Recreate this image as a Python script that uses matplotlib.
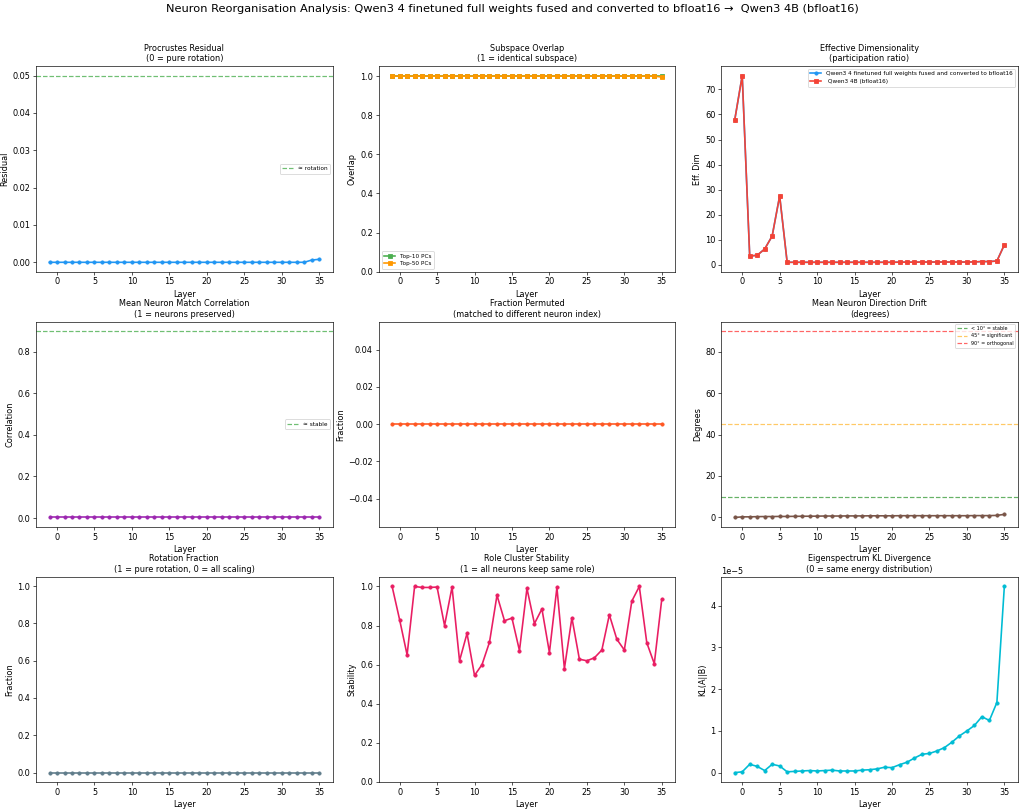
import numpy as np
import matplotlib
matplotlib.use("Agg")
import matplotlib.pyplot as plt

layers = list(range(-1, 36))

procrustes = [0.0] * 35 + [0.0006, 0.0008]

overlap_top10 = [1.0] * 37
overlap_top50 = [1.0] * 36 + [0.995]

effdim_b = [57.8, 75.5, 3.5, 3.8, 6.3, 11.5, 27.5, 1.0,
            1.0, 1.0, 1.0, 1.0, 1.0, 1.0, 1.0, 1.0, 1.0, 1.0, 1.0, 1.0,
            1.0, 1.0, 1.05, 1.05, 1.05, 1.1, 1.1, 1.1, 1.1, 1.1, 1.1, 1.1,
            1.15, 1.3, 1.3, 1.5, 8.0]
effdim_a = list(effdim_b)

correlation = [0.003] * 37
permuted = [0.0] * 37

drift = [0.0, 0.3, 0.3, 0.4, 0.45, 0.45, 0.5, 0.5, 0.55, 0.6, 0.6, 0.65,
         0.7, 0.7, 0.7, 0.75, 0.75, 0.75, 0.8, 0.8, 0.8, 0.8, 0.85, 0.85,
         0.85, 0.85, 0.85, 0.85, 0.85, 0.85, 0.85, 0.85, 0.9, 0.9, 0.9,
         1.0, 1.5]

rotation_frac = [0.0] * 37

stability = [1.0, 0.83, 0.65, 1.0, 0.995, 0.995, 0.997, 0.80, 0.997, 0.62,
             0.76, 0.545, 0.60, 0.715, 0.955, 0.825, 0.838, 0.672, 0.99,
             0.81, 0.885, 0.662, 0.995, 0.58, 0.84, 0.628, 0.62, 0.635,
             0.675, 0.855, 0.73, 0.675, 0.925, 1.0, 0.712, 0.605, 0.935]

kl = np.array([0.0, 0.02, 0.2, 0.15, 0.05, 0.2, 0.16, 0.02, 0.03, 0.04,
               0.05, 0.04, 0.05, 0.06, 0.04, 0.04, 0.04, 0.06, 0.07, 0.09,
               0.13, 0.12, 0.19, 0.25, 0.35, 0.44, 0.46, 0.52, 0.6, 0.73,
               0.88, 1.0, 1.13, 1.34, 1.25, 1.68, 4.47]) * 1e-5

name_a = "Qwen3 4 finetuned full weights fused and converted to bfloat16"
name_b = "Qwen3 4B (bfloat16)"

dpi = 1024 / 17.4
fig, axes = plt.subplots(3, 3, figsize=(17.4, 809 / dpi), dpi=dpi)
fig.suptitle(f"Neuron Reorganisation Analysis: {name_a} \u2192  {name_b}", fontsize=14, y=0.995)

ms = 4
lw = 2
tfs = 10

# procrustes residual
ax = axes[0, 0]
ax.plot(layers, procrustes, 'o-', color='#2196F3', markersize=ms, linewidth=lw)
ax.axhline(0.05, color='#4CAF50', linestyle='--', alpha=0.8, label='\u2248 rotation')
ax.set_title("Procrustes Residual\n(0 = pure rotation)", fontsize=tfs)
ax.set_xlabel("Layer")
ax.set_ylabel("Residual")
ax.legend(fontsize=7, loc='center right')

# subspace overlap
ax = axes[0, 1]
ax.plot(layers, overlap_top10, 's-', color='#4CAF50', markersize=ms, linewidth=lw, label='Top-10 PCs')
ax.plot(layers, overlap_top50, 's-', color='#FF9800', markersize=ms, linewidth=lw, label='Top-50 PCs')
ax.set_title("Subspace Overlap\n(1 = identical subspace)", fontsize=tfs)
ax.set_xlabel("Layer")
ax.set_ylabel("Overlap")
ax.set_ylim(0, 1.05)
ax.legend(fontsize=7, loc='lower left')

# effective dimensionality
ax = axes[0, 2]
ax.plot(layers, effdim_a, 'o-', color='#2196F3', markersize=ms, linewidth=lw, label=name_a)
ax.plot(layers, effdim_b, 's-', color='#F44336', markersize=ms, linewidth=lw, label=' ' + name_b)
ax.set_title("Effective Dimensionality\n(participation ratio)", fontsize=tfs)
ax.set_xlabel("Layer")
ax.set_ylabel("Eff. Dim")
ax.legend(fontsize=7, loc='upper right')

# correlation
ax = axes[1, 0]
ax.plot(layers, correlation, 'o-', color='#9C27B0', markersize=ms, linewidth=lw)
ax.axhline(0.9, color='#4CAF50', linestyle='--', alpha=0.8, label='\u2248 stable')
ax.set_title("Mean Neuron Match Correlation\n(1 = neurons preserved)", fontsize=tfs)
ax.set_xlabel("Layer")
ax.set_ylabel("Correlation")
ax.legend(fontsize=7, loc='center right')

# fraction permuted
ax = axes[1, 1]
ax.plot(layers, permuted, 'o-', color='#FF5722', markersize=ms, linewidth=lw)
ax.set_title("Fraction Permuted\n(matched to different neuron index)", fontsize=tfs)
ax.set_xlabel("Layer")
ax.set_ylabel("Fraction")

# drift
ax = axes[1, 2]
ax.plot(layers, drift, 'o-', color='#795548', markersize=ms, linewidth=lw)
ax.axhline(10, color='green', linestyle='--', alpha=0.6, label='< 10\u00b0 = stable')
ax.axhline(45, color='orange', linestyle='--', alpha=0.6, label='45\u00b0 = significant')
ax.axhline(90, color='red', linestyle='--', alpha=0.6, label='90\u00b0 = orthogonal')
ax.set_title("Mean Neuron Direction Drift\n(degrees)", fontsize=tfs)
ax.set_xlabel("Layer")
ax.set_ylabel("Degrees")
ax.legend(fontsize=6, loc='upper right')

# rotation fraction
ax = axes[2, 0]
ax.plot(layers, rotation_frac, 'o-', color='#607D8B', markersize=ms, linewidth=lw)
ax.set_title("Rotation Fraction\n(1 = pure rotation, 0 = all scaling)", fontsize=tfs)
ax.set_xlabel("Layer")
ax.set_ylabel("Fraction")
ax.set_ylim(-0.05, 1.05)

# role stability
ax = axes[2, 1]
ax.plot(layers, stability, 'o-', color='#E91E63', markersize=ms, linewidth=lw)
ax.set_title("Role Cluster Stability\n(1 = all neurons keep same role)", fontsize=tfs)
ax.set_xlabel("Layer")
ax.set_ylabel("Stability")
ax.set_ylim(0, 1.05)

# KL divergence
ax = axes[2, 2]
ax.plot(layers, kl, 'o-', color='#00BCD4', markersize=ms, linewidth=lw)
ax.set_title("Eigenspectrum KL Divergence\n(0 = same energy distribution)", fontsize=tfs)
ax.set_xlabel("Layer")
ax.set_ylabel("KL(A||B)")

plt.subplots_adjust(left=0.0352, right=0.994, top=0.918, bottom=0.0334,
                    hspace=0.243, wspace=0.155)
plt.savefig("out.png", dpi=dpi)
plt.close()
